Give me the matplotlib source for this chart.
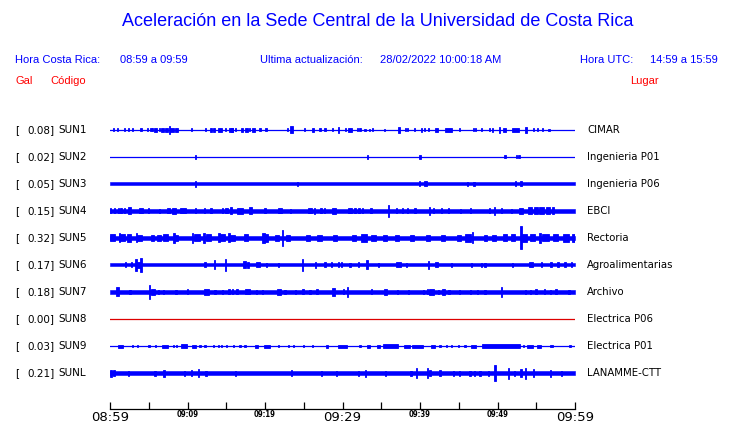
import matplotlib
matplotlib.use("Agg")
import matplotlib.pyplot as plt

W, H = 740, 423
BLUE = "#0000ff"
RED = "#ff0000"

codes = ["SUN1", "SUN2", "SUN3", "SUN4", "SUN5", "SUN6", "SUN7", "SUN8", "SUN9", "SUNL"]
gal = [0.08, 0.02, 0.05, 0.15, 0.32, 0.17, 0.18, 0.00, 0.03, 0.21]
places = ["CIMAR", "Ingenieria P01", "Ingenieria P06", "EBCI", "Rectoria",
          "Agroalimentarias", "Archivo", "Electrica P06", "Electrica P01", "LANAMME-CTT"]

# background noise half-height of each trace (display px); 0 = dead channel
base = [0.5, 0.5, 1.5, 1.6, 2.3, 1.5, 1.6, 0.0, 0.5, 2.0]

# bursts: (minute after 08:59, half-height px, duration min)
ev_sun1 = [(0.43, 1.5, .12), (0.99, 1.5, .12), (1.85, 1.5, .12), (2.37, 1.5, .12), (2.92, 1.5, .12),
           (4.0, 1.5, .12), (4.86, 1.5, .12), (5.29, 1.5, .12), (5.5, 1.5, .12), (5.89, 2, .3),
           (6.37, 1.5, .12), (6.75, 2, .4), (7.31, 2, .4), (7.66, 4, .15), (7.96, 2, .5), (8.6, 2, .4),
           (10.54, 1.5, .12), (12.34, 1.5, .12), (13.03, 2, .3), (13.42, 1.8, .3), (14.19, 2, .5),
           (14.92, 1.5, .12), (15.61, 2, .5), (15.78, 2, .3), (16.22, 1.5, .12), (16.99, 1.8, .3),
           (17.63, 1.8, .3), (17.98, 1.5, .2), (18.49, 2, .4), (19.35, 1.5, .12), (20.13, 1.5, .12),
           (22.92, 1.5, .12), (23.44, 3.5, .3), (25.08, 1.5, .12), (26.15, 2, .3), (27.1, 1.5, .12),
           (27.74, 1.5, .12), (28.73, 1.5, .12), (29.46, 3, .12), (30.41, 1.5, .12), (30.97, 2, .6),
           (31.96, 1.5, .12), (32.26, 1.5, .12), (32.9, 1.2, .12), (33.46, 1.2, .12), (33.89, 1.5, .12),
           (35.4, 1.2, .12), (37.29, 3, .12), (38.15, 1.5, .12), (38.41, 1.5, .12), (39.27, 1.5, .12),
           (40.22, 1.8, .2), (40.56, 1.5, .12), (41.08, 1.5, .12), (42.15, 2, .4), (43.66, 2, .9),
           (45.08, 1.5, .12), (46.88, 1.5, .12), (47.18, 1.5, .12), (47.96, 1.5, .12), (48.95, 1.5, .12),
           (49.38, 1.8, .2), (50.24, 3, .15), (50.88, 2, .4), (52.26, 2, .9), (53.68, 3, .15),
           (54.62, 1.5, .12), (55.18, 1.5, .12), (55.78, 1.5, .12), (56.65, 1.2, .12)]
ev_sun2 = [(11.05, 2, .2), (33.2, 2, .12), (39.96, 2, .25), (50.97, 1.5, .12), (52.47, 1.5, .12),
           (52.77, 1.5, .12)]
ev_sun3 = [(11.01, 3, .12), (24.17, 2, .12), (39.91, 2.5, .12), (40.73, 2.5, .3), (46.11, 2.3, .12),
           (46.97, 2.3, .12), (52.34, 2.5, .12), (53.03, 2.5, .12)]
ev_sun4 = [(0.09, 2.5, .12), (0.56, 2.5, .12), (1.08, 2.5, .2), (1.42, 2.5, .12), (1.85, 2.5, .12),
           (2.54, 3.5, .4), (4.0, 2.5, .6), (4.95, 2.5, .2), (6.37, 2.2, .12), (7.53, 2.5, .4),
           (8.26, 3, .6), (9.46, 2.5, .8), (11.05, 2.5, .2), (12.17, 2.5, .12), (13.03, 2.5, .25),
           (14.49, 2.5, .2), (15.05, 2.5, .3), (15.61, 3.5, .12), (16.77, 2.8, .8), (18.15, 3.5, .4),
           (20.0, 2.5, .12), (21.94, 2.5, .4), (23.31, 2.2, .12), (25.76, 2.5, .5), (26.37, 3, .12),
           (27.23, 2.5, .12), (27.66, 2.5, .12), (28.86, 3, .5), (30.97, 2.5, .4), (31.61, 2.5, .12),
           (32.13, 2.5, .12), (32.6, 2.5, .12), (33.68, 2.5, .2), (35.91, 6, .12), (36.99, 2.5, .12),
           (37.76, 2.5, .12), (38.41, 2.5, .12), (39.35, 2.5, .25), (41.2, 4, .12), (41.72, 2.5, .12),
           (42.8, 2.5, .12), (43.66, 2.5, .12), (45.2, 2.2, .12), (46.54, 2.5, .12), (48.95, 2.5, .12),
           (49.59, 4, .12), (50.54, 2.5, .2), (51.83, 2.2, .12), (53.03, 3, .5), (54.2, 3.5, .6),
           (55.0, 3.5, .5), (55.7, 3.5, .6), (56.5, 3.5, .5), (57.2, 3.5, .3)]
ev_sun5 = [(0.3, 3.5, .6), (1.2, 4.5, .15), (1.5, 3.5, .8), (2.5, 3.8, .5), (3.44, 4.5, .15),
           (3.8, 3.2, .6), (5.5, 3.0, .4), (6.3, 3.3, .5), (7.2, 3.5, .6), (8.26, 5.0, .15),
           (8.6, 3.0, .4), (10.62, 5.0, .15), (11.2, 3.5, .8), (12.13, 5.0, .15), (12.7, 3.5, .7),
           (14.06, 4.5, .15), (14.5, 3.5, .6), (15.35, 4.5, .15), (15.8, 3.2, .7), (17.5, 3.5, .5),
           (19.8, 5.0, .4), (20.2, 4.0, .4), (21.5, 3.2, .5), (22.24, 8.0, .12), (23.0, 3.2, .5),
           (25.5, 3.0, .5), (27.0, 3.2, .6), (29.0, 3.0, .5), (31.5, 3.0, .5), (32.8, 3.6, .8),
           (34.0, 3.2, .6), (35.5, 3.0, .5), (37.0, 3.0, .5), (39.0, 3.0, .5), (41.0, 3.0, .5),
           (43.0, 3.0, .5), (45.0, 3.2, .5), (46.2, 4.2, .7), (46.8, 5.5, .15), (48.5, 3.0, .4),
           (49.5, 3.2, .5), (51.0, 3.5, .5), (52.0, 3.5, .6), (53.03, 11.5, .12), (53.5, 4.0, .6),
           (54.5, 3.5, .6), (55.48, 5.0, .15), (56.2, 3.5, .8), (57.5, 3.5, .7), (58.8, 3.8, .8),
           (59.8, 4.0, .3)]
ev_sun6 = [(2.02, 2.5, .12), (2.8, 2.5, .12), (3.35, 6, .2), (3.7, 3, .5), (4.0, 7, .15),
           (12.26, 2.5, .12), (13.46, 4.5, .12), (14.92, 6, .12), (17.4, 3.5, .4), (17.8, 3, .3),
           (19.05, 2.5, .5), (20.22, 2.2, .12), (21.72, 2.2, .12), (24.82, 6, .15), (26.54, 3, .12),
           (27.74, 2.5, .12), (28.6, 2.5, .12), (29.46, 2.5, .12), (29.89, 2.5, .12), (30.97, 2.2, .12),
           (32.04, 2.5, .12), (33.2, 4.5, .25), (34.62, 2.2, .12), (37.2, 2.5, .6), (38.28, 2.2, .12),
           (41.08, 4, .15), (42.15, 2.5, .4), (44.09, 2.2, .12), (46.67, 2.2, .12), (47.96, 2.2, .12),
           (48.39, 2.2, .12), (51.91, 2.2, .12), (54.32, 2.5, .5), (55.7, 2.5, .12), (56.9, 2.5, .2),
           (57.85, 2.5, .3), (58.71, 2.5, .12), (59.57, 2.5, .12)]
ev_sun7 = [(0.99, 4.5, .4), (2.58, 2.2, .12), (5.08, 7, .15), (5.55, 3, .4), (6.24, 2.2, .12),
           (6.88, 2.2, .12), (8.52, 2.2, .12), (10.02, 2.5, .15), (12.47, 2.8, .6), (13.55, 2.2, .12),
           (14.49, 2.2, .12), (15.35, 2.5, .12), (15.78, 2.5, .12), (16.39, 2.5, .12), (17.76, 2.5, .6),
           (18.92, 2.2, .12), (19.66, 2.2, .12), (21.81, 2.8, .4), (22.58, 2.2, .12), (23.96, 2.2, .12),
           (24.9, 2.5, .2), (25.81, 2.2, .12), (26.71, 2.5, .15), (28.82, 4, .4), (30.11, 2.5, .12),
           (30.67, 5, .2), (33.76, 2.5, .12), (35.53, 2.8, .4), (37.12, 2.2, .12), (38.49, 2.2, .12),
           (40.43, 2.2, .12), (40.99, 2.5, .12), (41.51, 2.8, .6), (42.37, 2.2, .12), (43.01, 2.8, .4),
           (43.74, 2.2, .12), (45.08, 2.2, .12), (46.54, 2.2, .12), (47.4, 2.2, .12), (48.39, 2.2, .12),
           (50.54, 5, .15), (53.63, 2.2, .12), (54.28, 2.2, .12), (54.97, 2.5, .12), (56.04, 2.5, .12),
           (56.86, 2.2, .12), (57.55, 2.5, .12), (59.23, 2.2, .12)]
ev_sun8 = []
ev_sun9 = [(1.38, 1.5, .6), (2.92, 1.2, .12), (3.53, 1.2, .2), (5.03, 1.2, .12), (5.89, 1.2, .12),
           (7.1, 1.5, .8), (8.17, 1.2, .12), (8.6, 1.2, .12), (9.55, 1.8, .8), (10.8, 1.5, .5),
           (11.61, 1.2, .12), (12.26, 1.2, .12), (13.33, 1.2, .12), (13.98, 1.2, .12), (14.41, 1.2, .12),
           (15.05, 1.2, .12), (15.91, 1.2, .12), (16.77, 1.2, .12), (17.42, 1.2, .12), (18.92, 1.5, .3),
           (20.22, 1.5, .8), (21.72, 1.2, .12), (23.01, 1.2, .12), (23.66, 1.2, .12), (24.95, 1.2, .12),
           (26.11, 1.2, .12), (28.04, 1.5, .3), (29.98, 1.5, 1.1), (32.26, 1.2, .12), (33.33, 1.5, .4),
           (34.62, 1.5, .4), (36.22, 1.8, 1.9), (38.32, 1.5, .7), (39.66, 1.5, 1.5), (41.68, 1.5, .5),
           (42.58, 1.2, .12), (43.44, 1.2, .12), (44.09, 1.2, .12), (44.95, 1.2, .12), (45.81, 1.2, .12),
           (46.92, 1.5, .7), (50.43, 1.8, 4.9), (53.33, 1.2, .12), (54.19, 1.5, .8), (55.35, 1.5, .6),
           (56.99, 1.2, .4), (59.35, 1.2, .12)]
ev_sunl = [(0.13, 3.5, .2), (0.52, 3, .12), (2.37, 2.5, .12), (5.81, 2.5, .12), (6.97, 3.5, .2),
           (9.59, 2.5, .12), (10.54, 3, .12), (11.44, 4, .2), (12.39, 2.5, .12), (16.22, 2.5, .12),
           (23.44, 3, .12), (27.31, 2.5, .2), (29.25, 2.5, .12), (32.04, 2.5, .12), (32.95, 3.5, .12),
           (35.53, 2.5, .12), (38.84, 2.5, .12), (39.57, 5, .12), (40.95, 5, .12), (41.29, 2.8, .12),
           (42.58, 3, .12), (44.3, 2.5, .12), (45.08, 2.5, .12), (46.45, 2.5, .12), (47.01, 2.5, .12),
           (47.74, 2.5, .12), (48.82, 2.5, .12), (49.68, 8, .12), (51.4, 5.5, .12), (52.17, 2.5, .2),
           (53.03, 4, .12), (53.63, 5.5, .12), (54.62, 4, .12), (56.82, 3.5, .12), (58.28, 2.5, .12)]
events = [ev_sun1, ev_sun2, ev_sun3, ev_sun4, ev_sun5, ev_sun6, ev_sun7, ev_sun8, ev_sun9, ev_sunl]

tick_min = list(range(0, 61, 5))
tick_lab = ["08:59", "", "09:09", "", "09:19", "", "09:29", "", "09:39", "", "09:49", "", "09:59"]


def put(x, y, s, **kw):
    """Place text at pixel coords (origin top-left)."""
    kw.setdefault("va", "center")
    fig.text(x / W, 1 - y / H, s, **kw)


fig = plt.figure(figsize=(W / 100, H / 100), dpi=100)

HDR = dict(family="Liberation Sans", fontsize=8)
put(378, 22, "Aceleración en la Sede Central de la Universidad de Costa Rica",
    ha="center", color=BLUE, family="Liberation Sans", fontsize=13)
put(15, 60, "Hora Costa Rica:", color=BLUE, **HDR)
put(120, 60, "08:59 a 09:59", color=BLUE, **HDR)
put(260, 60, "Ultima actualización:", color=BLUE, **HDR)
put(380, 60, "28/02/2022 10:00:18 AM", color=BLUE, **HDR)
put(580, 60, "Hora UTC:", color=BLUE, **HDR)
put(650, 60, "14:59 a 15:59", color=BLUE, **HDR)
put(15, 81, "Gal", color=RED, **HDR)
put(50, 81, "Código", color=RED, **HDR)
put(630, 81, "Lugar", color=RED, **HDR)

# trace axes in display-pixel y units, bottom spine is the time axis
ax = fig.add_axes([110 / W, (H - 409) / H, 465 / W, 309 / H])
ax.set_xlim(tick_min[0], tick_min[-1])
ax.set_ylim(409, 100)
for s in ("top", "left", "right"):
    ax.spines[s].set_visible(False)
ax.spines["bottom"].set_linewidth(0.9)
ax.set_yticks([])

t0, t1 = tick_min[0], tick_min[-1]
for i, code in enumerate(codes):
    y0 = 130 + 27 * i
    if base[i] == 0:
        ax.plot([t0, t1], [y0, y0], color="#dd0000", lw=0.9)
    elif base[i] < 1:
        ax.plot([t0, t1], [y0, y0], color=BLUE, lw=0.9)
    else:
        ax.fill_between([t0, t1], y0 - base[i], y0 + base[i], color=BLUE, lw=0.4)
    if events[i]:
        t = [e[0] for e in events[i]]
        a = [e[1] for e in events[i]]
        d = [max(e[2], 0.14) for e in events[i]]
        ax.bar(t, [2 * v for v in a], width=d, bottom=[y0 - v for v in a],
               color=BLUE, edgecolor=BLUE, lw=0.6)

    put(15, y0, "[", fontsize=7.5)
    put(54.5, y0, f"{gal[i]:.2f}]", ha="right", fontsize=7.5)
    put(58, y0, code, fontsize=7.5)
    put(587, y0, places[i], fontsize=7.3)

ax.set_xticks(tick_min)
ax.set_xticklabels(tick_lab)
ax.tick_params(axis="x", direction="in", length=5, width=0.9, pad=1.5)
for k, lab in enumerate(ax.get_xticklabels()):
    if k % 6 == 0:
        lab.set_fontsize(9.5)
    else:
        lab.set_fontsize(5.5)
        lab.set_fontweight("bold")
        lab.set_fontstretch("condensed")
        lab.set_y(0.004)

fig.savefig("out.png", dpi=100)
